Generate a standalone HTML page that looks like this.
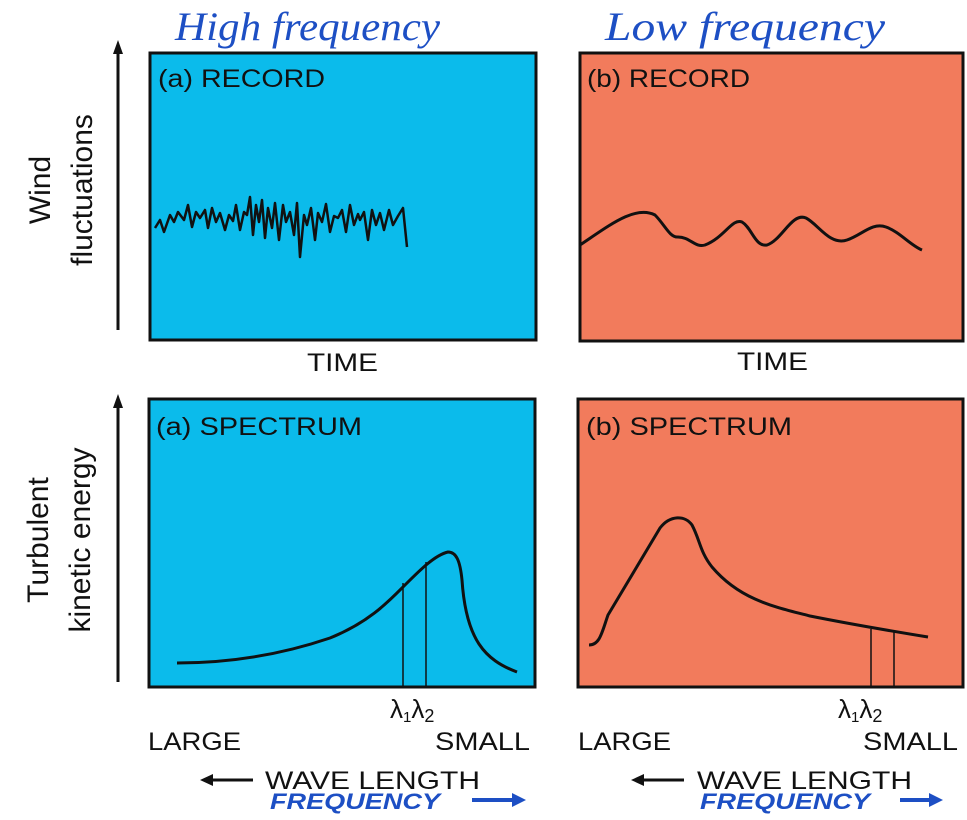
<!DOCTYPE html>
<html><head><meta charset="utf-8"><style>
body{margin:0;background:#fff;}
svg text{font-family:"Liberation Sans",sans-serif;}
</style></head><body>
<svg width="967" height="815" viewBox="0 0 967 815" xmlns="http://www.w3.org/2000/svg">
<!-- handwritten titles -->
<text x="175" y="40" font-style="italic" font-size="40" fill="#1d4fc4" style="font-family:'Liberation Serif',serif" textLength="265" lengthAdjust="spacingAndGlyphs">High frequency</text>
<text x="605" y="40" font-style="italic" font-size="40" fill="#1d4fc4" style="font-family:'Liberation Serif',serif" textLength="280" lengthAdjust="spacingAndGlyphs">Low frequency</text>
<!-- panels -->
<rect x="150" y="53" width="386" height="287" fill="#0bbbeb" stroke="#111" stroke-width="3"/>
<rect x="580" y="53" width="383" height="288" fill="#f27b5c" stroke="#111" stroke-width="3"/>
<rect x="149" y="399" width="386" height="288" fill="#0bbbeb" stroke="#111" stroke-width="3"/>
<rect x="578" y="399" width="385" height="288" fill="#f27b5c" stroke="#111" stroke-width="3"/>
<g font-size="25" fill="#111" lengthAdjust="spacingAndGlyphs">
<text x="158" y="87" textLength="167" lengthAdjust="spacingAndGlyphs">(a) RECORD</text>
<text x="587" y="87" textLength="163" lengthAdjust="spacingAndGlyphs">(b) RECORD</text>
<text x="156" y="435" textLength="206" lengthAdjust="spacingAndGlyphs">(a) SPECTRUM</text>
<text x="586" y="435" textLength="206" lengthAdjust="spacingAndGlyphs">(b) SPECTRUM</text>
<text x="307" y="371" textLength="71" lengthAdjust="spacingAndGlyphs">TIME</text>
<text x="737" y="370" textLength="71" lengthAdjust="spacingAndGlyphs">TIME</text>
<text x="148" y="750" textLength="93" lengthAdjust="spacingAndGlyphs">LARGE</text>
<text x="435" y="750" textLength="95" lengthAdjust="spacingAndGlyphs">SMALL</text>
<text x="578" y="750" textLength="93" lengthAdjust="spacingAndGlyphs">LARGE</text>
<text x="863" y="750" textLength="95" lengthAdjust="spacingAndGlyphs">SMALL</text>
<text x="390" y="718" font-size="26">λ<tspan font-size="15" dy="4">1</tspan><tspan dy="-4">λ</tspan><tspan font-size="18" dy="4">2</tspan></text>
<text x="838" y="718" font-size="26">λ<tspan font-size="15" dy="4">1</tspan><tspan dy="-4">λ</tspan><tspan font-size="18" dy="4">2</tspan></text>
<text x="265" y="789" textLength="215" lengthAdjust="spacingAndGlyphs">WAVE LENGTH</text>
<text x="697" y="789" textLength="215" lengthAdjust="spacingAndGlyphs">WAVE LENGTH</text>
</g>
<g stroke="#111" stroke-width="3" fill="#111">
<line x1="210" y1="780" x2="253" y2="780"/><polygon points="200,780 213,774 213,786" stroke="none"/>
<line x1="641" y1="780" x2="684" y2="780"/><polygon points="631,780 644,774 644,786" stroke="none"/>
</g>
<g fill="#1d4fc4" font-size="22" font-weight="bold" font-style="italic">
<text x="270" y="809" textLength="170" lengthAdjust="spacingAndGlyphs">FREQUENCY</text>
<text x="700" y="809" textLength="170" lengthAdjust="spacingAndGlyphs">FREQUENCY</text>
</g>
<g stroke="#1d4fc4" stroke-width="4" fill="#1d4fc4">
<line x1="472" y1="800" x2="515" y2="800"/><polygon points="526,800 512,793 512,807" stroke="none"/>
<line x1="900" y1="800" x2="932" y2="800"/><polygon points="943,800 929,793 929,807" stroke="none"/>
</g>
<!-- left axis arrows -->
<g stroke="#111" stroke-width="3" fill="#111">
<line x1="118" y1="330" x2="118" y2="50"/><polygon points="118,40 113,54 123,54" stroke="none"/>
<line x1="118" y1="682" x2="118" y2="404"/><polygon points="118,394 113,408 123,408" stroke="none"/>
</g>
<g font-size="30" fill="#111" text-anchor="middle">
<text transform="translate(50,190) rotate(-90)">Wind</text>
<text transform="translate(92,190) rotate(-90)">fluctuations</text>
<text transform="translate(48,540) rotate(-90)">Turbulent</text>
<text transform="translate(90,540) rotate(-90)">kinetic energy</text>
</g>
<!-- series -->
<g fill="none" stroke="#111" stroke-width="3" stroke-linejoin="round">
<polyline stroke-width="2.5" points="155,228 160,220 164,232 170,215 174,222 178,212 184,220 188,205 192,227 196,212 200,218 205,210 208,228 212,208 216,222 220,213 225,230 229,215 233,221 236,205 240,230 244,212 247,215 250,197 253,235 256,205 259,222 262,200 265,238 268,208 272,228 275,203 279,240 283,205 286,222 290,212 294,235 297,203 300,257 304,215 307,225 311,208 315,240 318,213 322,222 326,204 330,232 334,216 338,218 342,210 346,232 350,205 354,225 358,214 360,220 364,212 368,240 372,210 376,225 380,213 384,230 389,210 393,225 398,216 403,208 407,247"/>
<path d="M580,245 C610,225 635,205 655,215 C665,225 670,238 678,237 C690,237 695,248 705,245 C725,237 732,218 742,222 C752,228 755,247 767,245 C782,240 792,212 806,218 C818,224 830,246 847,240 C862,235 872,222 886,227 C900,232 910,245 922,250"/>
<path d="M177,663 C230,663 280,655 330,638 C370,622 390,600 405,585 C420,570 435,555 448,552 C456,552 460,560 462,580 C466,640 485,660 517,672"/>
<path d="M589,645 C600,645 602,632 608,615 L660,528 C670,515 685,515 692,525 C700,540 700,552 712,567 C740,600 775,607 810,616 C850,624 885,630 928,637"/>
</g>
<g stroke="#111" stroke-width="1.5">
<line x1="403" y1="583" x2="403" y2="686"/><line x1="426" y1="562" x2="426" y2="686"/>
<line x1="871" y1="629" x2="871" y2="686"/><line x1="894" y1="632" x2="894" y2="686"/>
</g>
</svg>
</body></html>
